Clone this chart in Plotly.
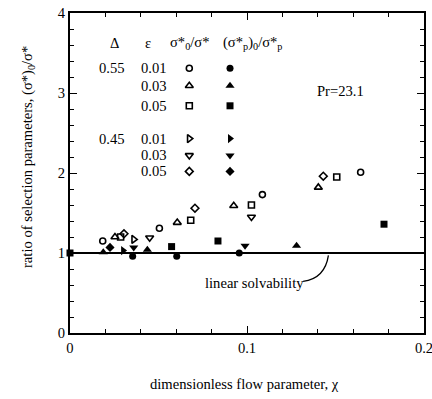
import plotly.graph_objects as go

# ---- data ----
# open markers: sigma*_0 / sigma*
d55_e01_open_x = [0.0185, 0.0505, 0.1087, 0.1642]
d55_e01_open_y = [1.15, 1.31, 1.73, 2.01]
d55_e03_open_x = [0.0254, 0.0606, 0.0925, 0.1403]
d55_e03_open_y = [1.20, 1.38, 1.59, 1.82]
d55_e05_open_x = [0.0286, 0.0682, 0.1025, 0.1507]
d55_e05_open_y = [1.20, 1.41, 1.60, 1.95]
d45_e01_open_x = [0.0360]
d45_e01_open_y = [1.17]
d45_e03_open_x = [0.0450, 0.1025]
d45_e03_open_y = [1.19, 1.45]
d45_e05_open_x = [0.0305, 0.0706, 0.1431]
d45_e05_open_y = [1.24, 1.56, 1.96]

# filled markers: (sigma*_p)_0 / sigma*_p
d55_e01_fill_x = [0.0354, 0.0603, 0.0956]
d55_e01_fill_y = [0.96, 0.96, 1.00]
d55_e03_fill_x = [0.0188, 0.0437, 0.1280]
d55_e03_fill_y = [1.01, 1.04, 1.09]
d55_e05_fill_x = [0.0, 0.0574, 0.0836, 0.1774]
d55_e05_fill_y = [1.00, 1.08, 1.15, 1.36]
d45_e01_fill_x = [0.0300]
d45_e01_fill_y = [1.03]
d45_e03_fill_x = [0.0360, 0.0989]
d45_e03_fill_y = [1.07, 1.09]
d45_e05_fill_x = [0.0226]
d45_e05_fill_y = [1.07]

# in-plot key
key_open_x = 0.0674
key_fill_x = 0.0904
key_rows_y = [3.31, 3.09, 2.84, 2.43, 2.22, 2.02]
key_delta_labels = ["0.55", "", "", "0.45", "", ""]
key_eps_labels = ["0.01", "0.03", "0.05", "0.01", "0.03", "0.05"]

linear_solvability_y = 1.0
x_ticks = [0, 0.1, 0.2]
x_ticklabels = ["0", "0.1", "0.2"]
y_ticks = [0, 1, 2, 3, 4]

FONT = "Liberation Serif"
FS = 14.6

open_sets = [
    (d55_e01_open_x, d55_e01_open_y, "circle-open", 6),
    (d55_e03_open_x, d55_e03_open_y, "triangle-up-open", 7),
    (d55_e05_open_x, d55_e05_open_y, "square-open", 6),
    (d45_e01_open_x, d45_e01_open_y, "triangle-right-open", 7),
    (d45_e03_open_x, d45_e03_open_y, "triangle-down-open", 7),
    (d45_e05_open_x, d45_e05_open_y, "diamond-open", 6),
]
fill_sets = [
    (d55_e01_fill_x, d55_e01_fill_y, "circle", 7),
    (d55_e03_fill_x, d55_e03_fill_y, "triangle-up", 8),
    (d55_e05_fill_x, d55_e05_fill_y, "square", 7),
    (d45_e01_fill_x, d45_e01_fill_y, "triangle-right", 8),
    (d45_e03_fill_x, d45_e03_fill_y, "triangle-down", 8),
    (d45_e05_fill_x, d45_e05_fill_y, "diamond", 7),
]

fig = go.Figure()

# linear solvability line
fig.add_trace(go.Scatter(x=[0, 0.2], y=[linear_solvability_y] * 2, mode="lines",
                         line=dict(color="black", width=2), showlegend=False,
                         cliponaxis=False))

for i, (xs, ys, sym, sz) in enumerate(open_sets):
    fig.add_trace(go.Scatter(x=xs + [key_open_x], y=ys + [key_rows_y[i]], mode="markers",
                             marker=dict(symbol=sym, size=sz, color="black",
                                         line=dict(color="black", width=1.6)),
                             showlegend=False, cliponaxis=False))
for i, (xs, ys, sym, sz) in enumerate(fill_sets):
    fig.add_trace(go.Scatter(x=xs + [key_fill_x], y=ys + [key_rows_y[i]], mode="markers",
                             marker=dict(symbol=sym, size=sz, color="black",
                                         line=dict(color="black", width=0)),
                             showlegend=False, cliponaxis=False))

ann = []
tf = dict(family=FONT, size=FS, color="black")
header_y = 3.62
ann.append(dict(x=0.0254, y=header_y, text="Δ", showarrow=False, font=tf))
ann.append(dict(x=0.0440, y=header_y, text="ε", showarrow=False, font=tf))
ann.append(dict(x=0.0680, y=header_y, text="σ*<sub>0</sub>/σ*", showarrow=False, font=tf))
ann.append(dict(x=0.1030, y=header_y, text="(σ*<sub>p</sub>)<sub>0</sub>/σ*<sub>p</sub>",
                showarrow=False, font=tf))
for yv, dl, el in zip(key_rows_y, key_delta_labels, key_eps_labels):
    if dl:
        ann.append(dict(x=0.0240, y=yv, text=dl, showarrow=False, font=tf))
    ann.append(dict(x=0.0475, y=yv, text=el, showarrow=False, font=tf))
ann.append(dict(x=0.1530, y=3.02, text="Pr=23.1", showarrow=False, font=tf))
ann.append(dict(x=0.1045, y=0.63, text="linear solvability", showarrow=False, font=tf))
# axis titles
ann.append(dict(xref="paper", yref="paper", x=0.494, y=0, yanchor="middle", yshift=-51,
                text="dimensionless flow parameter, χ", showarrow=False, font=tf))
ann.append(dict(xref="paper", yref="paper", x=0, y=0.55, xanchor="center", xshift=-42,
                textangle=-90, text="ratio of selection parameters, (σ*)<sub>0</sub>/σ*",
                showarrow=False, font=tf))

fig.update_layout(
    width=432, height=399,
    margin=dict(l=70, r=8, t=13, b=66),
    paper_bgcolor="white", plot_bgcolor="white",
    annotations=ann,
    shapes=[dict(type="path", xref="x", yref="y",
                 path="M 0.1317 0.645 Q 0.1440 0.68 0.1460 0.97",
                 line=dict(color="black", width=1.3))],
    xaxis=dict(range=[0, 0.2], tickvals=x_ticks, ticktext=x_ticklabels, automargin=False,
               ticks="inside", ticklen=7, tickwidth=1, tickcolor="black",
               ticklabeloverflow="allow",
               minor=dict(dtick=0.02, ticks="inside", ticklen=4, tickcolor="black"),
               showline=True, linecolor="black", linewidth=2, mirror="ticks",
               showgrid=False, zeroline=False,
               tickfont=dict(family=FONT, size=FS, color="black")),
    yaxis=dict(range=[0, 4], tickvals=y_ticks, automargin=False,
               ticks="inside", ticklen=7, tickwidth=1, tickcolor="black",
               ticklabeloverflow="allow",
               minor=dict(dtick=0.2, ticks="inside", ticklen=4, tickcolor="black"),
               showline=True, linecolor="black", linewidth=2, mirror="ticks",
               showgrid=False, zeroline=False,
               tickfont=dict(family=FONT, size=FS, color="black")),
)

fig.write_html("out.html", config={"displayModeBar": False},
               post_script="document.body.style.margin='0';document.body.style.overflow='hidden';")
